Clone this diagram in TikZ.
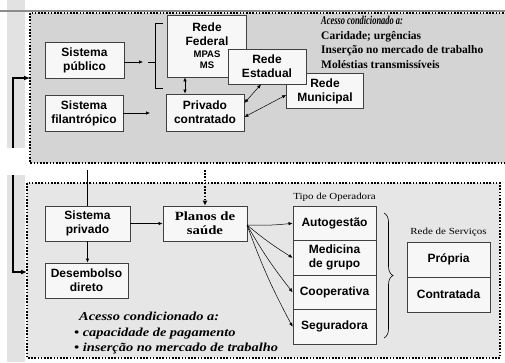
\documentclass[tikz,border=0pt]{standalone}
\usepackage{fontspec}
\setmainfont{Liberation Serif}
\setsansfont{Liberation Sans}
\newfontfamily\wideserif[FakeStretch=1.18]{Liberation Serif}
\newfontfamily\narrowserif[FakeStretch=0.7]{Liberation Serif}
\usetikzlibrary{arrows.meta,decorations.pathreplacing}
\definecolor{upfill}{HTML}{D4D4D4}
\definecolor{lowfill}{HTML}{E6E6E6}
\definecolor{boxfill}{HTML}{F7F7F7}
\definecolor{stripgray}{HTML}{E2E2E2}
\newcommand{\smallsig}[1]{{\fontsize{9.5}{10.5}\selectfont #1}}
\tikzset{
  box/.style={draw=black!75, fill=boxfill, line width=0.8pt, align=center, inner sep=1pt,
    font=\sffamily\bfseries\fontsize{12}{14}\selectfont},
  dotframe/.style={draw=black, line width=1.6pt, dash pattern=on 1.6pt off 1.6pt},
  arr/.style={-{Latex[length=4pt,width=3.5pt]}, line width=0.6pt},
}

\begin{document}
\begin{tikzpicture}[x=1pt, y=-1pt]
		\useasboundingbox (0,0) rectangle (505,362);
		\fill [white] (0,0) rectangle (505,362);
		\fill [stripgray] (7,0) rectangle (25,362);
		\draw [black!45, line width=2.5pt] (0,11) -- (505,11);

		% quadros pontilhados
		\draw [dotframe, fill=upfill] (30,13) rectangle (512,163);
		\draw [dotframe, fill=lowfill] (27,183) rectangle (500,358);

		% setor publico
		\node [box, minimum width=79pt, minimum height=36pt] (pub) at (84.5,60) {Sistema\\público};
		\node [box, minimum width=78pt, minimum height=36pt] (fil) at (84,113) {Sistema\\filantrópico};
		\node [box, minimum width=79pt, minimum height=62pt] (fed) at (207,46)
			{Rede\\Federal\\[-2pt]\smallsig{MPAS}\\[-3pt]\smallsig{MS}};
		\node [box, minimum width=77pt, minimum height=35pt] (mun) at (325,91) {Rede\\Municipal};
		\node [box, minimum width=78pt, minimum height=35pt] (est) at (267,66.5) {Rede\\Estadual};
		\node [box, minimum width=78pt, minimum height=37pt] (priv) at (205,112.5) {Privado\\contratado};

		\node [anchor=north west, align=left, inner sep=0pt,
			font=\bfseries\fontsize{11.5}{14.5}\selectfont] (accup) at (321,16)
			{{\narrowserif\itshape\fontsize{12}{14.5}\selectfont Acesso condicionado a:}\\
			Caridade; urgências\\Inserção no mercado de trabalho\\Moléstias transmissíveis};

		\coordinate (pubend) at (143,62);
		\coordinate (filend) at (150,113);
		\coordinate (brtop) at (155,23);
		\coordinate (brbot) at (155,88);
		\coordinate (brmid) at (155,62);
		\coordinate (fedx) at (185,0);

		\draw [arr] (pub.east |- pubend) -- (pubend);
		\draw [line width=0.6pt] ([xshift=-7pt]brmid) -- (brmid);
		\draw [line width=0.6pt] ([xshift=8pt]brtop) -- (brtop) -- (brbot) -- ([xshift=8pt]brbot);
		\draw [arr] (fil.east |- filend) -- (filend);
		\draw [{Latex[length=4pt,width=3.5pt]}-{Latex[length=4pt,width=3.5pt]}, line width=0.6pt]
			(fedx |- fed.south) -- (fedx |- priv.north);
		\draw [{Latex[length=4pt,width=3.5pt]}-{Latex[length=4pt,width=3.5pt]}, line width=0.5pt]
			([yshift=9.5pt]priv.east) -- ([xshift=-6pt]est.south);
		\draw [{Latex[length=4pt,width=3.5pt]}-{Latex[length=4pt,width=3.5pt]}, line width=0.5pt]
			([yshift=-4.5pt]priv.east) -- ([yshift=-4pt]mun.west);

		% setor privado
		\node [box, minimum width=85pt, minimum height=35pt] (spriv) at (87.5,223.5) {Sistema\\privado};
		\node [box, minimum width=83pt, minimum height=35pt] (desemb) at (86.5,280.5) {Desembolso\\direto};
		\node [box, minimum width=84pt, minimum height=35pt,
			font=\wideserif\bfseries\fontsize{12.5}{14}\selectfont] (planos) at (205,223.5) {Planos de\\saúde};

		\node [box, minimum width=83pt, minimum height=34.5pt] (autog) at (334.5,223.25) {Autogestão};
		\node [box, minimum width=83pt, minimum height=34.5pt] (medic) at (334.5,257.75) {Medicina\\de grupo};
		\node [box, minimum width=83pt, minimum height=34.5pt] (coop) at (334.5,292.25) {Cooperativa};
		\node [box, minimum width=83pt, minimum height=34.5pt] (segur) at (334.5,326.75) {Seguradora};
		\node [font=\wideserif\fontsize{9.3}{11}\selectfont] (tipo) at (334.5,197) {Tipo de Operadora};

		\node [box, minimum width=83pt, minimum height=35pt] (propria) at (448.5,259.5) {Própria};
		\node [box, minimum width=83pt, minimum height=35pt] (contrat) at (448.5,294.5) {Contratada};
		\node [font=\wideserif\fontsize{9.3}{11}\selectfont] (redeserv) at (448.5,232) {Rede de Serviços};

		\node [anchor=north west, align=left, inner sep=0pt,
			font=\wideserif\bfseries\itshape\fontsize{12.2}{15.5}\selectfont] (acclow) at (74,312)
			{\hspace{5pt}Acesso condicionado a:\\• capacidade de pagamento\\• inserção no mercado de trabalho};

		\coordinate (toplin) at (87,170);
		\coordinate (topdot) at (205,170);
		\coordinate (fanst) at (247,225);
		\coordinate (brace1) at (384,213);
		\coordinate (brace2) at (384,338);

		\draw [line width=0.6pt] (toplin) -- (toplin |- spriv.north);
		\draw [-{Latex[length=5pt,width=5pt]}, line width=1.6pt, dash pattern=on 1.6pt off 1.6pt]
			(topdot) -- (planos.north);
		\draw [arr] (spriv.east) -- (planos.west);
		\draw [arr] (spriv.south) -- (spriv.south |- desemb.north);
		\foreach \op in {autog, medic, coop, segur}
			\draw [arr, line width=0.5pt] (fanst) to [bend right=4] (\op.west);
		\draw [decorate, decoration={brace, amplitude=9pt}, line width=0.6pt] (brace1) -- (brace2);

		% conector lateral
		\coordinate (upw) at (30,78);
		\coordinate (low) at (27,272);
		\coordinate (lc1) at (13,78);
		\coordinate (lc2) at (13,272);
		\draw [{Latex[length=6pt,width=5pt]}-{Latex[length=6pt,width=5pt]}, line width=2pt]
			(upw) -- (lc1) -- (lc2) -- (low);
		\fill [white] (0,148) rectangle (28.5,175);

	\end{tikzpicture}
\end{document}
